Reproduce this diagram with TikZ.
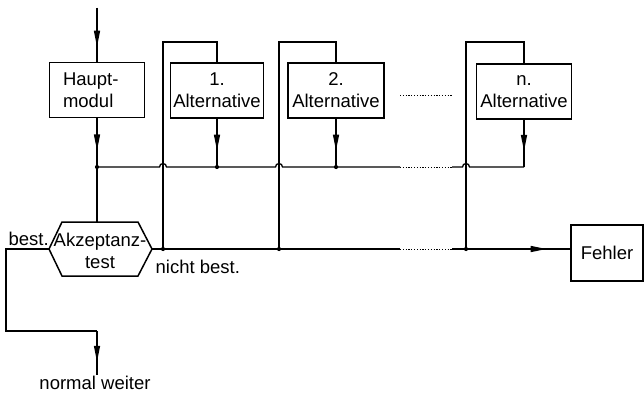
\documentclass[tikz,border=0pt]{standalone}
\usepackage{fontspec}
\setmainfont{Liberation Sans}
\usetikzlibrary{arrows.meta,calc}

% a connector with its arrowhead part of the way along
\newcommand\flowline[3]{%
  \draw[-{Triangle[length=16pt,width=6pt]}] (#1) -- ($(#1)!#3!(#2)$);
  \draw (#1) -- (#2);}

\begin{document}
\begin{tikzpicture}[x=1pt,y=-1pt,line width=1.3pt,
  txt/.style={font=\fontsize{18.5}{22}\selectfont},
  box/.style={txt,draw,line width=1.5pt,minimum width=#1,minimum height=55pt,inner sep=0pt,align=center},
  junction/.style={circle,fill,inner sep=0pt,minimum size=4.2pt},
  dotline/.style={line width=1pt,dash pattern=on 1.2pt off 1.6pt}]
\useasboundingbox (0,0) rectangle (644,393);

% modules
\node[box=95pt,text width=68pt,align=left] (haupt) at (97,90) {Haupt-\\modul};
\node[box=93pt] (alt1) at (217,90.5) {1.\\Alternative};
\node[box=96pt] (alt2) at (336,90.5) {2.\\Alternative};
\node[box=95pt] (altn) at (524,91.5) {n.\\Alternative};
\node[box=72pt,minimum height=56pt] (fehler) at (607,253) {Fehler};
\draw[dotline] (400,96) -- (452,96);

% acceptance test (hexagon)
\coordinate (testT) at (97,222);
\coordinate (testL) at (49,249);
\coordinate (testR) at (152,249);
\draw[line width=1.5pt] (62,222) -- (138,222) -- (testR) -- (138,276) -- (62,276) -- (testL) -- cycle;
\node[txt,align=center,inner sep=0pt] (test) at (100,251) {Akzeptanz-\\test};

% points on the collecting line and the lower line
\coordinate (in) at (97,8);
\coordinate (b0) at (97,167);
\coordinate (b1) at (217,167);
\coordinate (b2) at (336,167);
\coordinate (bn) at (524,167);
\coordinate (bd1) at (400,167);
\coordinate (bd2) at (452,167);
\coordinate (j1) at (163,167);
\coordinate (j2) at (279,167);
\coordinate (jn) at (466,167);
\coordinate (l1) at (163,249);
\coordinate (l2) at (279,249);
\coordinate (ln) at (466,249);
\coordinate (ld1) at (400,249);
\coordinate (ld2) at (452,249);
\coordinate (t1) at (163,42);
\coordinate (t2) at (279,42);
\coordinate (tn) at (466,42);
\coordinate (ok) at (97,331);
\coordinate (okend) at (97,375);
\coordinate (ferr) at (fehler.west |- ld2);

% main path
\flowline{in}{haupt.north}{0.72}
\flowline{haupt.south}{b0}{0.66}
\draw (b0) -- (testT);
\flowline{alt1.south}{b1}{0.66}
\flowline{alt2.south}{b2}{0.66}
\flowline{altn.south}{bn}{0.66}

% collecting line with jumps over the return lines
\draw (b0) -- ($(j1)+(-3.5,0)$) arc[start angle=180,end angle=360,radius=3.5]
  -- ($(j2)+(-3.5,0)$) arc[start angle=180,end angle=360,radius=3.5] -- (bd1);
\draw[dotline] (bd1) -- (bd2);
\draw (bd2) -- ($(jn)+(-3.5,0)$) arc[start angle=180,end angle=360,radius=3.5] -- (bn);

% return lines to the alternatives
\draw (l1) -- (t1) -| (alt1.north);
\draw (l2) -- (t2) -| (alt2.north);
\draw (ln) -- (tn) -| (altn.north);

% "nicht best." line to the error box
\draw (testR) -- (ld1);
\draw[dotline] (ld1) -- (ld2);
\flowline{ld2}{ferr}{0.8}

% "best." branch
\draw (testL) -- ++(-43,0) |- (ok);
\flowline{ok}{okend}{0.7}

% junction dots
\foreach \p in {b0,b1,b2,l1,l2,ln}
  \node[junction] at (\p) {};

% labels
\node[txt,anchor=base west,inner sep=0pt] (lbest) at (8,245) {best.};
\node[txt,anchor=base west,inner sep=0pt] (lnicht) at (155,273) {nicht best.};
\node[txt,anchor=base,inner sep=0pt] (lweiter) at (95,389) {normal weiter};
\end{tikzpicture}
\end{document}
